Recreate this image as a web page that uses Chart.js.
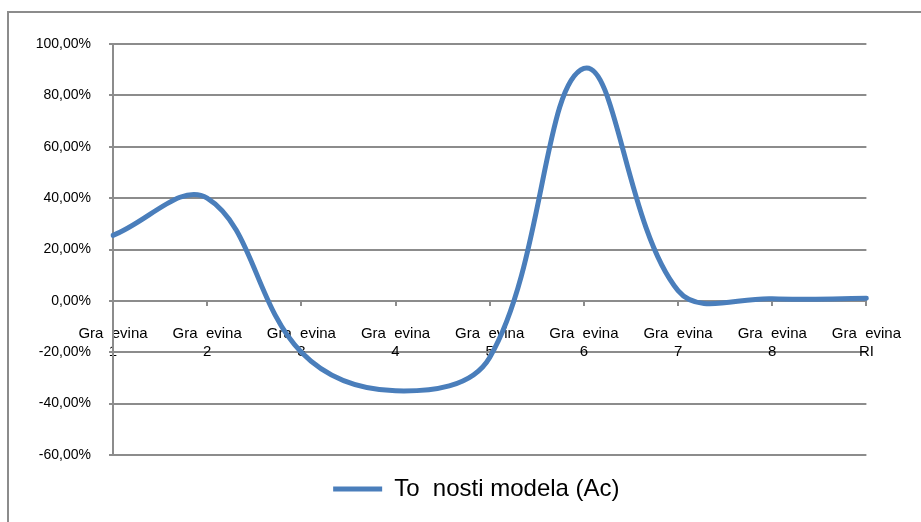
<!DOCTYPE html>
<html>
<head>
<meta charset="utf-8">
<script src="https://cdn.jsdelivr.net/npm/chart.js@4/dist/chart.umd.min.js"></script>
<style>
  html, body { margin: 0; padding: 0; background: #fff; overflow: hidden; }
  #wrap { position: relative; width: 921px; height: 522px; overflow: hidden; }
  #frame { position: absolute; left: 7px; top: 11px; right: -10px; bottom: -10px;
           border-left: 2px solid #8c8c8c; border-top: 2px solid #8c8c8c; }
  #box { position: absolute; left: 0; top: 0; width: 921px; height: 522px; }
</style>
</head>
<body>
<div id="wrap">
  <div id="frame"></div>
  <div id="box"><canvas id="lineChart"></canvas></div>
</div>
<script>
// podaci s grafa
const categories = [
    ['Gra  evina', '1'], ['Gra  evina', '2'], ['Gra  evina', '3'],
    ['Gra  evina', '4'], ['Gra  evina', '5'], ['Gra  evina', '6'],
    ['Gra  evina', '7'], ['Gra  evina', '8'], ['Gra  evina', 'RI']
];
const accuracy = [25.5, 40, -20, -35, -22, 90.5, 4, 0.8, 1];
const seriesName = 'To  nosti modela (Ac)';
const yMin = -60;
const yMax = 100;
const yStep = 20;

const gridColor = '#8c8c8c';
const font = "'Liberation Sans', Arial, sans-serif";

document.addEventListener('DOMContentLoaded', function() {
    const ctx = document.getElementById('lineChart');
    new Chart(ctx, {
        type: 'line',
        data: {
            labels: categories,
            datasets: [{
                label: seriesName,
                data: accuracy,
                borderColor: '#4a7ebb',
                backgroundColor: '#4a7ebb',
                borderWidth: 5,
                borderCapStyle: 'round',
                pointRadius: 0,
                pointHoverRadius: 0,
                tension: 0.38,
                fill: false
            }]
        },
        options: {
            responsive: true,
            maintainAspectRatio: false,
            animation: false,
            layout: {
                padding: { left: 34, right: 54, top: 44, bottom: 11 }
            },
            plugins: {
                tooltip: { enabled: false },
                legend: {
                    display: true,
                    position: 'bottom',
                    fullSize: false,
                    labels: {
                        usePointStyle: true,
                        pointStyle: 'line',
                        pointStyleWidth: 49,
                        padding: 22,
                        color: '#000',
                        font: { family: font, size: 24 },
                        // razmaci na kraju pomiču legendu ulijevo kao u originalu
                        generateLabels: function(chart) {
                            const items = Chart.defaults.plugins.legend.labels.generateLabels(chart);
                            items.forEach(function(it) { it.text = it.text + '    '; });
                            return items;
                        }
                    }
                }
            },
            scales: {
                x: {
                    position: { y: 0 },
                    grid: {
                        drawOnChartArea: false,
                        drawTicks: true,
                        tickLength: 4,
                        color: gridColor,
                        lineWidth: 2
                    },
                    border: { display: true, color: gridColor, width: 2 },
                    ticks: {
                        autoSkip: false,
                        maxRotation: 0,
                        padding: 20,
                        color: '#000',
                        font: { family: font, size: 15, lineHeight: 1.2 }
                    }
                },
                y: {
                    min: yMin,
                    max: yMax,
                    afterFit: function(scale) { scale.width = 79; },
                    grid: {
                        color: gridColor,
                        lineWidth: 2,
                        tickLength: 4
                    },
                    border: { display: true, color: gridColor, width: 2 },
                    ticks: {
                        stepSize: yStep,
                        padding: 18,
                        color: '#000',
                        font: { family: font, size: 14 },
                        callback: function(v) { return v.toFixed(2).replace('.', ',') + '%'; }
                    }
                }
            }
        }
    });
});
</script>
</body>
</html>
